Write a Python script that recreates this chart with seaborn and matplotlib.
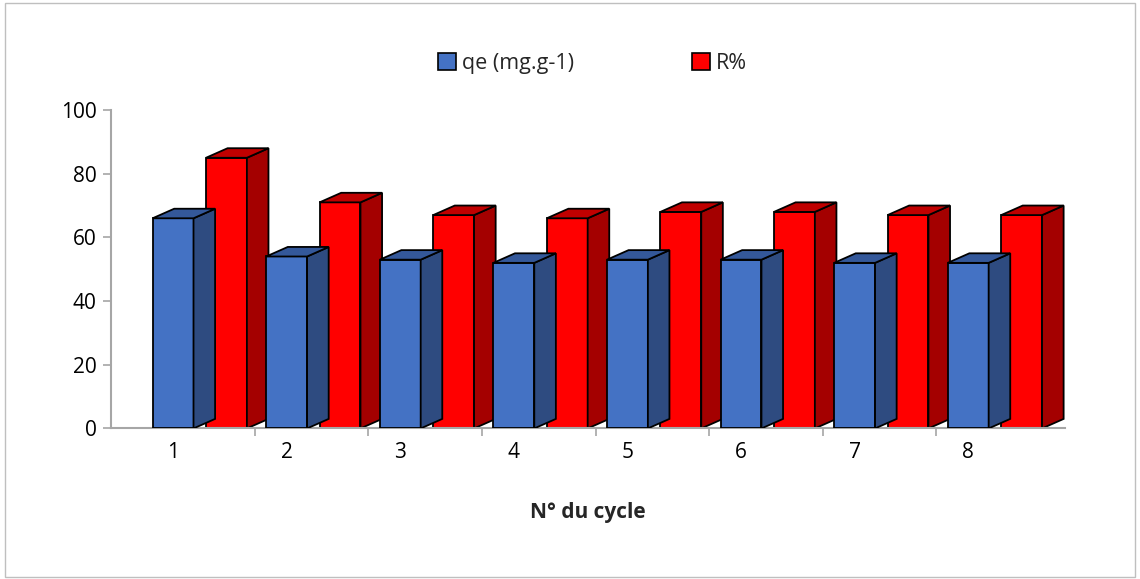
import matplotlib
matplotlib.use("Agg")
import matplotlib.pyplot as plt
import seaborn as sns
import pandas as pd
from matplotlib.patches import Polygon, Patch, Rectangle

# ---- data ----
cycles = [1, 2, 3, 4, 5, 6, 7, 8]
qe = [66, 54, 53, 52, 53, 53, 52, 52]
r_pct = [85, 71, 67, 66, 68, 68, 67, 67]
series_labels = ["qe (mg.g-1)", "R%"]
yticks = [0, 20, 40, 60, 80, 100]
xlabel = "N° du cycle"

# ---- style ----
BLUE, BLUE_SIDE, BLUE_TOP = "#4472C4", "#2E4B80", "#34589A"
RED, RED_SIDE, RED_TOP = "#FF0000", "#A40000", "#C00000"
BAR_W = 0.36
RED_SHIFT = 0.47
DX, DY = 0.19, 3.0

sns.set_theme(style="white")
plt.rcParams["font.family"] = ["Open Sans", "DejaVu Sans"]

fig = plt.figure(figsize=(11.4, 5.79), dpi=100)
ax = fig.add_axes([0.097, 0.26, 0.837, 0.55])

df_blue = pd.DataFrame({"pos": cycles, "val": qe})
df_red = pd.DataFrame({"pos": [c + RED_SHIFT for c in cycles], "val": r_pct})


def add_depth(patches, side, top, z):
    for p in patches:
        x0, y0 = p.get_x(), p.get_y()
        w, h = p.get_width(), p.get_height()
        x1, yt = x0 + w, y0 + h
        ax.add_patch(Polygon([(x1, y0), (x1, yt), (x1 + DX, yt + DY), (x1 + DX, y0 + DY)],
                             closed=True, facecolor=side, edgecolor="black",
                             linewidth=1.3, zorder=z))
        ax.add_patch(Polygon([(x0, yt), (x1, yt), (x1 + DX, yt + DY), (x0 + DX, yt + DY)],
                             closed=True, facecolor=top, edgecolor="black",
                             linewidth=1.3, zorder=z))


n0 = len(ax.patches)
sns.barplot(data=df_red, x="pos", y="val", native_scale=True, width=BAR_W,
            color=RED, saturation=1, edgecolor="black", linewidth=1.3,
            zorder=2, ax=ax)
red_patches = list(ax.patches[n0:])
add_depth(red_patches, RED_SIDE, RED_TOP, 2)

n1 = len(ax.patches)
sns.barplot(data=df_blue, x="pos", y="val", native_scale=True, width=BAR_W,
            color=BLUE, saturation=1, edgecolor="black", linewidth=1.3,
            zorder=4, ax=ax)
blue_patches = [p for p in ax.patches[n1:] if p not in red_patches]
add_depth(blue_patches[:len(cycles)], BLUE_SIDE, BLUE_TOP, 4)

ax.set_xlim(0.45, 8.85)
ax.set_ylim(0, 100)
ax.set_yticks(yticks)
ax.set_yticklabels([str(t) for t in yticks], fontsize=15, color="black")
ax.set_xticks(cycles)
ax.set_xticklabels([str(c) for c in cycles], fontsize=15, color="black")
ax.set_xticks([c + 0.72 for c in cycles[:-1]], minor=True)
ax.tick_params(axis="x", which="major", length=0, pad=10)
ax.tick_params(axis="x", which="minor", length=6, color="#A6A6A6", width=1.2,
               direction="out", bottom=True)
ax.tick_params(axis="y", length=6, color="#A6A6A6", width=1.2, direction="out",
               left=True, pad=4)
ax.set_xlabel(xlabel, fontsize=15, fontweight="bold", labelpad=28)
ax.set_ylabel("")
for s in ["top", "right"]:
    ax.spines[s].set_visible(False)
for s in ["left", "bottom"]:
    ax.spines[s].set_color("#A6A6A6")
    ax.spines[s].set_linewidth(1.5)

handles = [Patch(facecolor=BLUE, edgecolor="black", linewidth=1.2),
           Patch(facecolor=RED, edgecolor="black", linewidth=1.2)]
fig.legend(handles, series_labels, loc="center", bbox_to_anchor=(0.52, 0.89),
           ncol=2, frameon=False, fontsize=15.5, handlelength=0.8,
           handleheight=0.8, handletextpad=0.3, columnspacing=5.5)

fig.patches.append(Rectangle((0.004, 0.004), 0.992, 0.99, transform=fig.transFigure,
                             fill=False, edgecolor="#BFBFBF", linewidth=1.0))

fig.savefig("out.png", dpi=100)
